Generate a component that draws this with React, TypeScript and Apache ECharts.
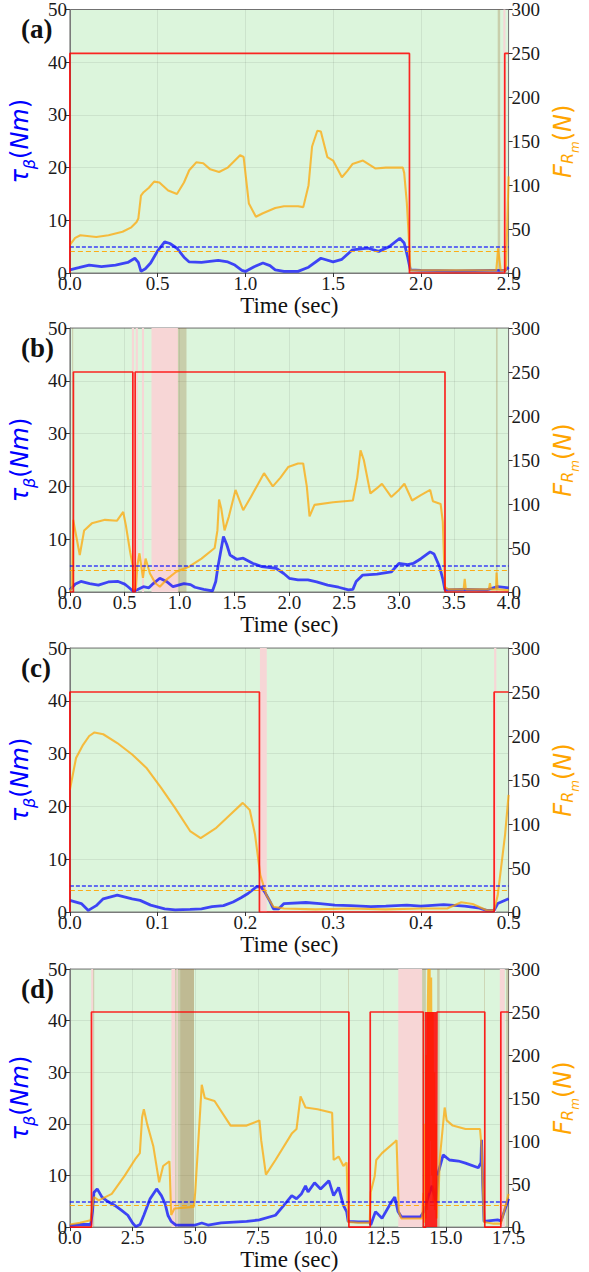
import React, { useEffect, useRef } from "react";
import * as echarts from "echarts";

// ---------- Panel (a) ----------
const torqueA: [number, number][] = [[0,0.6],[0.05,1.0],[0.11,1.5],[0.18,1.2],[0.26,1.5],[0.33,2.0],[0.37,2.8],[0.39,2.0],[0.405,0.3],[0.43,0.8],[0.46,1.9],[0.5,4.2],[0.54,5.9],[0.57,5.6],[0.61,4.7],[0.65,3.0],[0.68,2.1],[0.75,2.0],[0.845,2.4],[0.9,2.1],[0.94,1.5],[0.98,0.5],[1.0,0.3],[1.05,1.2],[1.1,1.9],[1.14,1.4],[1.17,0.6],[1.22,0.3],[1.3,0.3],[1.36,1.1],[1.43,2.8],[1.5,2.1],[1.55,2.6],[1.61,4.4],[1.7,4.7],[1.76,4.1],[1.82,5.0],[1.88,6.6],[1.905,5.7],[1.925,3.0],[1.94,0.6],[2.0,0.5],[2.2,0.4],[2.4,0.5],[2.48,0.5],[2.5,1.1]];
const forceA: [number, number][] = [[0,32],[0.03,40],[0.06,43],[0.15,41],[0.22,43],[0.3,47],[0.35,52],[0.38,58],[0.39,62],[0.405,88],[0.42,92],[0.45,97],[0.48,104],[0.51,103],[0.56,94],[0.61,90],[0.65,103],[0.68,117],[0.72,126],[0.76,125],[0.8,118],[0.85,115],[0.9,120],[0.97,134],[0.99,132],[1.02,79],[1.06,64],[1.1,68],[1.17,74],[1.22,76],[1.3,76],[1.33,75],[1.36,100],[1.38,144],[1.41,162],[1.43,161],[1.467,132],[1.5,128],[1.55,109],[1.58,116],[1.61,124],[1.67,128],[1.74,119],[1.8,120],[1.897,120],[1.905,114],[1.92,80],[1.93,45],[1.94,3],[2.0,3],[2.2,3],[2.43,3],[2.44,28],[2.455,3],[2.485,3],[2.5,110]];
const onA: [number, number][] = [[0,1.935],[2.478,2.5]];
const pinkA: [number, number][] = [[2.47,2.482]];
const oliveA: [number, number][] = [[2.438,2.452]];
const oliveDarkA: [number, number][] = [];

// ---------- Panel (b) ----------
const torqueB: [number, number][] = [[0,0.4],[0.05,1.5],[0.1,2.0],[0.18,1.6],[0.26,1.3],[0.35,1.9],[0.44,2.0],[0.5,1.5],[0.53,1.0],[0.574,0.2],[0.6,0.3],[0.67,1.0],[0.72,0.8],[0.76,1.6],[0.82,2.6],[0.88,2.0],[0.94,1.0],[1.04,1.6],[1.1,1.4],[1.14,0.9],[1.22,0.5],[1.3,0.2],[1.33,2.0],[1.35,4.8],[1.4,10.5],[1.43,9.0],[1.46,7.0],[1.52,6.2],[1.58,6.4],[1.67,5.4],[1.75,4.8],[1.88,4.5],[1.95,3.5],[2.0,2.6],[2.08,2.3],[2.17,2.3],[2.25,1.9],[2.35,1.3],[2.45,0.9],[2.54,0.4],[2.58,0.5],[2.61,2.0],[2.67,3.2],[2.8,3.4],[2.93,3.8],[3.0,5.4],[3.08,5.2],[3.13,5.4],[3.2,6.3],[3.285,7.6],[3.32,7.2],[3.37,4.8],[3.4,2.5],[3.42,0.4],[3.6,0.5],[3.8,0.4],[3.9,1.0],[4.0,0.8]];
const forceB: [number, number][] = [[0,0],[0.02,5],[0.03,82],[0.06,62],[0.09,42],[0.13,70],[0.2,78],[0.32,82],[0.43,81],[0.486,91],[0.51,76],[0.55,45],[0.574,29],[0.58,3],[0.6,3],[0.615,30],[0.634,44],[0.666,16],[0.69,38],[0.73,21],[0.78,10],[0.82,6],[0.88,14],[0.97,23],[1.09,29],[1.2,38],[1.32,50],[1.345,70],[1.36,105],[1.38,95],[1.41,70],[1.45,86],[1.51,116],[1.58,93],[1.65,108],[1.77,135],[1.85,120],[1.92,130],[1.99,142],[2.08,146],[2.127,146],[2.16,120],[2.185,86],[2.23,99],[2.4,102],[2.58,104],[2.62,130],[2.65,161],[2.68,150],[2.74,112],[2.8,118],[2.845,123],[2.93,108],[3.0,116],[3.05,123],[3.12,104],[3.2,110],[3.285,116],[3.31,103],[3.38,100],[3.4,80],[3.42,6],[3.45,3],[3.59,3],[3.6,15],[3.61,3],[3.82,3],[3.83,10],[3.84,3],[3.885,3],[3.89,22],[3.9,3],[4.0,2]];
const onB: [number, number][] = [[0.032,0.574],[0.595,3.42]];
const pinkB: [number, number][] = [[0.565,0.585],[0.6,0.62],[0.657,0.676],[0.744,0.985]];
const oliveB: [number, number][] = [[0.02,0.03],[0.985,1.063],[3.885,3.9]];
const oliveDarkB: [number, number][] = [];

// ---------- Panel (c) ----------
const torqueC: [number, number][] = [[0,2.2],[0.013,1.6],[0.021,0.3],[0.03,1.2],[0.038,2.5],[0.054,3.2],[0.071,2.5],[0.08,2.2],[0.092,1.3],[0.108,0.6],[0.12,0.4],[0.137,0.5],[0.15,0.6],[0.162,1.0],[0.175,1.2],[0.186,1.9],[0.195,2.7],[0.203,3.5],[0.213,4.8],[0.218,4.7],[0.222,3.8],[0.228,2.0],[0.232,0.6],[0.238,0.6],[0.244,1.6],[0.269,1.8],[0.285,1.6],[0.302,1.3],[0.32,1.2],[0.343,1.0],[0.36,1.1],[0.384,1.3],[0.4,1.1],[0.426,1.4],[0.45,1.1],[0.465,0.8],[0.475,0.3],[0.4835,0.3],[0.4876,1.6],[0.5,2.5]];
const forceC: [number, number][] = [[0,139],[0.007,175],[0.015,190],[0.022,200],[0.028,204],[0.038,202],[0.054,192],[0.071,179],[0.087,164],[0.104,141],[0.12,118],[0.137,92],[0.149,84],[0.166,95],[0.182,110],[0.197,124],[0.205,116],[0.211,88],[0.217,42],[0.224,19],[0.232,6],[0.244,4],[0.28,3],[0.32,4],[0.36,3],[0.4,4],[0.43,4],[0.446,11],[0.459,9],[0.475,2],[0.4835,2],[0.4876,19],[0.496,88],[0.5,133]];
const onC: [number, number][] = [[0,0.216],[0.4835,0.5]];
const pinkC: [number, number][] = [[0.2166,0.2244],[0.4835,0.486]];
const oliveC: [number, number][] = [];
const oliveDarkC: [number, number][] = [];

// ---------- Panel (d) ----------
const torqueD: [number, number][] = [[0,0.3],[0.4,0.5],[0.83,0.5],[0.9,3],[0.96,6.7],[1.09,7.4],[1.28,5.8],[1.5,5.0],[1.79,4.2],[2.05,3.3],[2.31,2.3],[2.5,0.8],[2.63,0.1],[2.8,0.5],[2.95,2.3],[3.2,5.5],[3.46,7.4],[3.65,6.1],[3.8,4.5],[3.91,2.3],[4.04,1.1],[4.23,0.4],[5.0,0.4],[5.26,0.8],[5.51,0.4],[6.03,0.8],[7.05,1.1],[7.56,1.4],[8.2,2.3],[8.5,4.0],[8.85,6.1],[9.04,5.5],[9.23,6.4],[9.4,8.0],[9.5,6.8],[9.76,8.6],[10.0,7.4],[10.33,9.0],[10.52,6.1],[10.72,7.7],[10.91,4.2],[11.04,3.0],[11.1,1.1],[11.5,1.0],[11.96,1.0],[12.0,0.4],[12.19,3.0],[12.45,1.7],[12.83,4.9],[12.96,5.8],[13.09,3.0],[13.22,2.0],[13.6,2.0],[13.99,2.0],[14.12,3.0],[14.3,6],[14.45,8],[14.6,5],[14.69,10.5],[14.89,14],[15.14,13],[15.5,12.8],[15.78,12.4],[16.29,11.5],[16.4,12.5],[16.42,16.9],[16.47,8],[16.52,1.1],[17.06,1.4],[17.2,1.2],[17.5,5.5]];
const forceD: [number, number][] = [[0,3],[0.4,5],[0.83,8],[0.9,25],[0.96,35],[1.15,31],[1.67,38.6],[2.18,59.5],[2.63,80],[2.79,86],[2.88,127.7],[2.95,137],[3.08,120],[3.33,93.6],[3.56,52],[3.72,71],[3.97,76.5],[4.04,14],[4.17,21.6],[4.94,23.5],[5.0,40.5],[5.26,165.5],[5.38,150],[5.77,146.6],[6.41,118],[7.05,118],[7.56,124],[7.63,101],[7.82,61],[8.2,78],[8.85,108.7],[9.04,114],[9.2,152],[9.4,139],[9.88,137],[10.46,133],[10.52,78],[10.72,82],[10.91,71],[11.04,75],[11.1,6],[11.5,5],[11.96,5],[12.0,40.5],[12.16,59.5],[12.22,78],[12.45,86],[12.96,99],[13.03,101],[13.12,18],[13.22,10],[13.6,10],[14.05,10],[14.1,40],[14.13,5],[14.16,120],[14.19,10],[14.22,200],[14.25,20],[14.28,260],[14.3,300],[14.32,40],[14.35,300],[14.38,100],[14.41,290],[14.44,60],[14.47,250],[14.5,30],[14.53,180],[14.56,20],[14.6,120],[14.63,10],[14.67,60],[14.7,30],[14.75,78],[14.95,139],[15.03,124],[15.27,118],[15.78,114],[16.36,114],[16.42,93.6],[16.52,6],[16.9,4],[17.19,4],[17.5,38.6]];
const onD: [number, number][] = [[0.86,11.13],[11.98,14.1],[14.2,14.22],[14.24,14.26],[14.28,14.3],[14.32,14.34],[14.36,14.38],[14.4,14.42],[14.44,14.46],[14.48,14.5],[14.52,14.54],[14.56,14.58],[14.6,14.62],[14.64,16.55],[17.19,17.5]];
const pinkD: [number, number][] = [[0.85,0.93],[4.05,4.2],[4.25,4.3],[13.1,14.05],[17.15,17.35]];
const oliveD: [number, number][] = [[0.93,0.97],[4.2,4.25],[4.3,4.4],[11.1,11.13],[14.05,14.2],[14.65,14.75],[16.52,16.55],[17.4,17.5]];
const oliveDarkD: [number, number][] = [[4.4,4.95]];

// ---------- Axes ----------
const panelLabels = ["(a)", "(b)", "(c)", "(d)"];
const xMaxes = [2.5, 4.0, 0.5, 17.5];
const xSteps = [0.5, 0.5, 0.1, 2.5];
const torqueMax = 50;
const torqueStep = 10;
const forceMax = 300;
const forceStep = 50;
const torqueLimit = 5;
const forceLimit = 25;
const switchHigh = 250;

const torques = [torqueA, torqueB, torqueC, torqueD];
const forces = [forceA, forceB, forceC, forceD];
const ons = [onA, onB, onC, onD];
const pinks = [pinkA, pinkB, pinkC, pinkD];
const olives = [oliveA, oliveB, oliveC, oliveD];
const oliveDarks = [oliveDarkA, oliveDarkB, oliveDarkC, oliveDarkD];

const gridTops = [9, 328, 648, 969];
const gridHeight = 264;

function stepData(on: [number, number][], xMax: number): [number, number][] {
  const pts: [number, number][] = [];
  if (on.length === 0 || on[0][0] > 0) pts.push([0, 0]);
  on.forEach(([a, b]) => {
    pts.push([a, 0], [a, switchHigh], [b, switchHigh], [b, 0]);
  });
  const last = on[on.length - 1];
  if (last && last[1] >= xMax) pts.pop();
  else pts.push([xMax, 0]);
  return pts;
}

const SERIF = "'Liberation Serif', 'Times New Roman', serif";
const MATH = "'DejaVu Sans', sans-serif";

export default function App() {
  const ref = useRef<HTMLDivElement>(null);
  useEffect(() => {
    if (!ref.current) return;
    const chart = echarts.init(ref.current, undefined, { renderer: "svg" });
    const grid: any[] = [];
    const xAxis: any[] = [];
    const yAxis: any[] = [];
    const series: any[] = [];
    const graphic: any[] = [];
    for (let i = 0; i < 4; i++) {
      grid.push({
        left: 63, right: 71, top: gridTops[i], height: gridHeight,
        show: true, backgroundColor: "#dcf5dc", borderColor: "#7a7a7a", borderWidth: 1,
      });
      xAxis.push({
        type: "value", gridIndex: i, min: 0, max: xMaxes[i], interval: xSteps[i],
        axisLine: { show: true, onZero: false, lineStyle: { color: "#7a7a7a" } },
        axisTick: { show: true, length: 4, lineStyle: { color: "#333" } },
        axisLabel: {
          formatter: (v: number) => v.toFixed(1), fontFamily: SERIF, fontSize: 19, color: "#1a1a1a",
          margin: 1, showMinLabel: true, showMaxLabel: true, hideOverlap: false,
        },
        splitLine: { show: true, lineStyle: { color: "rgba(0,0,0,0.07)" } },
        name: "Time (sec)", nameLocation: "middle", nameGap: 16,
        nameTextStyle: { fontFamily: SERIF, fontSize: 23, color: "#111", verticalAlign: "top" },
      });
      yAxis.push({
        type: "value", gridIndex: i, min: 0, max: torqueMax, interval: torqueStep, position: "left",
        axisLine: { show: true, lineStyle: { color: "#7a7a7a" } },
        axisTick: { show: true, length: 4, lineStyle: { color: "#333" } },
        axisLabel: { fontFamily: SERIF, fontSize: 19, color: "#1a1a1a", margin: 3 },
        splitLine: { show: true, lineStyle: { color: "rgba(0,0,0,0.07)" } },
        name: "{t|τ}{s|β}{p|(}{t|Nm}{p|)}", nameLocation: "middle", nameGap: 23, nameRotate: 90,
        nameTextStyle: {
          color: "#0000ff",
          rich: {
            t: { fontFamily: MATH, fontStyle: "italic", fontSize: 24, color: "#0000ff", lineHeight: 34, verticalAlign: "middle" },
            s: { fontFamily: MATH, fontStyle: "italic", fontSize: 16, color: "#0000ff", lineHeight: 34, verticalAlign: "bottom" },
            p: { fontFamily: MATH, fontSize: 24, color: "#0000ff", lineHeight: 34, verticalAlign: "middle" },
          },
        },
      });
      yAxis.push({
        type: "value", gridIndex: i, min: 0, max: forceMax, interval: forceStep, position: "right",
        axisLine: { show: true, lineStyle: { color: "#7a7a7a" } },
        axisTick: { show: true, length: 4, lineStyle: { color: "#333" } },
        axisLabel: { fontFamily: SERIF, fontSize: 19, color: "#1a1a1a", margin: 3 },
        splitLine: { show: false },
        name: "{t|F}{r|R}{m|m}{p|(}{t|N}{p|)}", nameLocation: "middle", nameGap: 29, nameRotate: 90,
        nameTextStyle: {
          color: "#ffa500",
          rich: {
            t: { fontFamily: MATH, fontStyle: "italic", fontSize: 24, color: "#ffa500", lineHeight: 36, verticalAlign: "middle" },
            r: { fontFamily: MATH, fontStyle: "italic", fontSize: 16, color: "#ffa500", lineHeight: 36, verticalAlign: "bottom", padding: [0, 0, 6, 0] },
            m: { fontFamily: MATH, fontStyle: "italic", fontSize: 12, color: "#ffa500", lineHeight: 36, verticalAlign: "bottom" },
            p: { fontFamily: MATH, fontSize: 24, color: "#ffa500", lineHeight: 36, verticalAlign: "middle" },
          },
        },
      });
      const area = (list: [number, number][], color: string) =>
        list.map(([a, b]) => [{ xAxis: a, itemStyle: { color } }, { xAxis: b }]);
      series.push({
        type: "line", xAxisIndex: i, yAxisIndex: 2 * i, data: [[0, 0]], showSymbol: false,
        lineStyle: { width: 0, opacity: 0 }, silent: true, z: 1,
        markArea: {
          silent: true,
          data: [
            ...area(pinks[i], "#f7d6d6"),
            ...area(olives[i], "rgba(150,105,45,0.28)"),
            ...area(oliveDarks[i], "rgba(150,105,45,0.42)"),
          ],
        },
      });
      series.push({
        type: "line", xAxisIndex: i, yAxisIndex: 2 * i, data: torques[i], showSymbol: false,
        lineStyle: { color: "#0000ff", width: 2.8, opacity: 0.72 }, itemStyle: { color: "#0000ff" }, z: 3,
        markLine: {
          silent: true, symbol: "none", label: { show: false },
          lineStyle: { color: "#0000ff", opacity: 0.75, width: 1.5, type: [4, 2] },
          data: [{ yAxis: torqueLimit }],
        },
      });
      series.push({
        type: "line", xAxisIndex: i, yAxisIndex: 2 * i + 1, data: forces[i], showSymbol: false,
        lineStyle: { color: "#ffa500", width: 2.1, opacity: 0.72 }, itemStyle: { color: "#ffa500" }, z: 4,
        markLine: {
          silent: true, symbol: "none", label: { show: false },
          lineStyle: { color: "#ffa500", opacity: 0.9, width: 1.2, type: [5, 3] },
          data: [{ yAxis: forceLimit }],
        },
      });
      series.push({
        type: "line", xAxisIndex: i, yAxisIndex: 2 * i + 1, data: stepData(ons[i], xMaxes[i]), showSymbol: false,
        lineStyle: { color: "#ff0000", width: 1.7, opacity: 0.85 }, itemStyle: { color: "#ff0000" }, z: 5,
      });
      graphic.push({
        type: "text", left: 21, top: gridTops[i] + 6,
        style: { text: panelLabels[i], fontFamily: SERIF, fontWeight: "bold", fontSize: 27, fill: "#111" },
      });
    }
    chart.setOption({ animation: false, grid, xAxis, yAxis, series, graphic });
    return () => chart.dispose();
  }, []);
  return (
    <div
      ref={ref}
      style={{ position: "fixed", left: 0, top: 0, width: 589, height: 1272, background: "#fff" }}
    />
  );
}
